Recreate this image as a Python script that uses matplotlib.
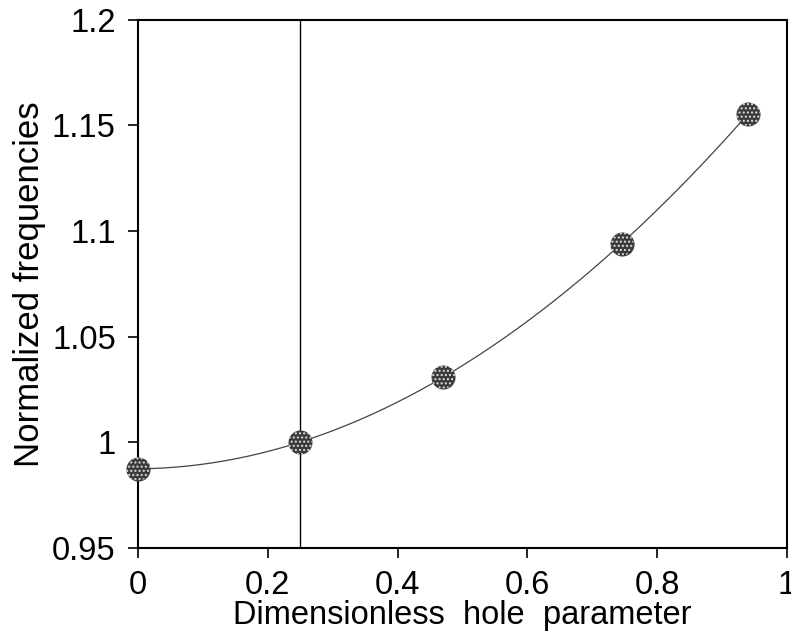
import numpy as np
import matplotlib.pyplot as plt

# Data
hole_param = [0.0, 0.25, 0.47, 0.745, 0.94]
norm_freq = [0.9875, 1.0, 1.031, 1.094, 1.1555]
x_ticks = [0, 0.2, 0.4, 0.6, 0.8, 1]
x_labels = ['0', '0.2', '0.4', '0.6', '0.8', '1']
y_ticks = [0.95, 1.0, 1.05, 1.1, 1.15, 1.2]
y_labels = ['0.95', '1', '1.05', '1.1', '1.15', '1.2']
marker_line = 0.25

plt.rcParams['font.family'] = ['Liberation Sans', 'DejaVu Sans']

fig = plt.figure(figsize=(7.91, 6.39), dpi=100)
ax = fig.add_axes([0.1745, 0.1424, 0.8205, 0.8266])

# smooth fitted curve through the points
coef = np.polyfit(hole_param, norm_freq, 3)
xs = np.linspace(hole_param[0], hole_param[-1], 200)
ax.plot(xs, np.polyval(coef, xs), color='#444444', lw=0.9, zorder=2)

ax.axvline(marker_line, color='black', lw=1.0, zorder=1)

ax.scatter(hole_param, norm_freq, s=300, color='#3a3a3a', zorder=3,
           clip_on=False, linewidths=0)
ax.scatter(hole_param, norm_freq, s=300, facecolor='none', edgecolor='#dddddd',
           hatch='....', linewidths=0, zorder=4, clip_on=False)

ax.set_xlim(0, 1)
ax.set_ylim(0.95, 1.2)
ax.set_xticks(x_ticks)
ax.set_xticklabels(x_labels)
ax.set_yticks(y_ticks)
ax.set_yticklabels(y_labels)
ax.tick_params(direction='out', length=7, width=1.2, labelsize=23.5)
ax.tick_params(axis='y', pad=9)
ax.tick_params(axis='x', pad=9)
for s in ax.spines.values():
    s.set_linewidth(1.5)

ax.set_xlabel('Dimensionless  hole  parameter', fontsize=23.5, labelpad=-1)
ax.set_ylabel('Normalized frequencies', fontsize=25, labelpad=4)

fig.savefig('out.png', dpi=100)
